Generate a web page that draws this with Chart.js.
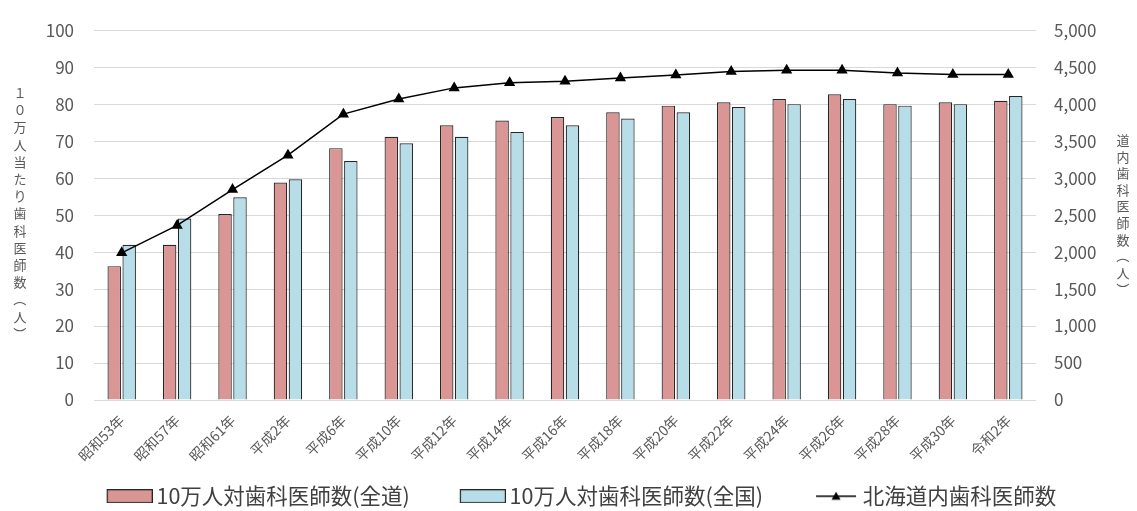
<!DOCTYPE html>
<html lang="ja">
<head>
<meta charset="utf-8">
<title>歯科医師数の推移</title>
<script src="https://cdn.jsdelivr.net/npm/chart.js@4/dist/chart.umd.min.js"></script>
<style>
    html, body { margin: 0; padding: 0; background: #fff; }
    #wrap { width: 1137px; height: 511px; position: relative; }
</style>
</head>
<body>
<div id="wrap"><canvas id="dentistChart"></canvas></div>
<script>
"use strict";

var years = ["昭和53年", "昭和57年", "昭和61年", "平成2年", "平成6年", "平成10年", "平成12年", "平成14年",
    "平成16年", "平成18年", "平成20年", "平成22年", "平成24年", "平成26年", "平成28年", "平成30年", "令和2年"];
// 10万人対歯科医師数（全道）
var ratioHokkaido = [36.2, 42.0, 50.3, 58.8, 68.1, 71.2, 74.3, 75.6, 76.5, 77.8, 79.6, 80.5, 81.4, 82.7, 80.0, 80.5, 80.9];
// 10万人対歯科医師数（全国）
var ratioNational = [42.0, 49.1, 54.8, 59.7, 64.6, 69.4, 71.2, 72.5, 74.3, 76.1, 77.8, 79.2, 80.0, 81.4, 79.6, 80.0, 82.2];
// 北海道内歯科医師数
var dentistsHokkaido = [1990, 2360, 2845, 3310, 3865, 4070, 4220, 4290, 4310, 4355, 4395, 4440, 4460, 4460, 4420, 4400, 4400];

var seriesNames = ["10万人対歯科医師数(全道)", "10万人対歯科医師数(全国)", "北海道内歯科医師数"];
var leftTitle = "１０万人当たり歯科医師数（人）";
var rightTitle = "道内歯科医師数（人）";

var FONT = '"Noto Sans CJK JP", "Noto Sans", sans-serif';
var GREY = '#595959';
var RED = '#DA9694';
var BLUE = '#B7DEE8';
var EDGE = '#262626';

// legend symbols; the transparent left part of each image gives the gap between items
var SYM_W = 65;
function legendSymbol(kind, fill) {
    var c = document.createElement('canvas');
    c.width = SYM_W + 14;
    c.height = 14;
    var g = c.getContext('2d');
    var x0 = c.width - 46;
    if (kind === 'box') {
        g.fillStyle = fill;
        g.fillRect(x0 + 0.5, 0.5, 45, 13);
        g.strokeStyle = EDGE;
        g.lineWidth = 1.2;
        g.strokeRect(x0 + 0.5, 0.5, 45, 13);
    } else {
        g.strokeStyle = '#000';
        g.lineWidth = 1.5;
        g.beginPath();
        g.moveTo(x0 + 3, 7);
        g.lineTo(x0 + 43, 7);
        g.stroke();
        g.fillStyle = '#000';
        g.beginPath();
        g.moveTo(x0 + 23, 2.5);
        g.lineTo(x0 + 27.5, 10.5);
        g.lineTo(x0 + 18.5, 10.5);
        g.closePath();
        g.fill();
    }
    return c;
}

function drawVertical(ctx, text, x, y, step) {
    Array.from(text).forEach(function (ch, i) {
        var cy = y + i * step;
        if (ch === '（' || ch === '）') {
            ctx.save();
            ctx.translate(x, cy);
            ctx.rotate(Math.PI / 2);
            ctx.fillText(ch, 0, 0);
            ctx.restore();
        } else {
            ctx.fillText(ch, x, cy);
        }
    });
}

var axisTitles = {
    id: 'axisTitles',
    afterDraw: function (chart) {
        var ctx = chart.ctx;
        ctx.save();
        ctx.font = '13px ' + FONT;
        ctx.fillStyle = GREY;
        ctx.textAlign = 'center';
        ctx.textBaseline = 'middle';
        drawVertical(ctx, leftTitle, 20, 93, 17.2);
        drawVertical(ctx, rightTitle, 1123, 140, 16.6);
        ctx.restore();
    }
};

var ctx = document.getElementById("dentistChart");
var dentistChart = new Chart(ctx, {
    type: 'bar',
    data: {
        labels: years,
        datasets: [{
            label: seriesNames[0],
            data: ratioHokkaido,
            backgroundColor: RED,
            borderColor: EDGE,
            borderWidth: 1.2,
            categoryPercentage: 0.54,
            barPercentage: 0.9,
            yAxisID: 'y',
            order: 1
        }, {
            label: seriesNames[1],
            data: ratioNational,
            backgroundColor: BLUE,
            borderColor: EDGE,
            borderWidth: 1.2,
            categoryPercentage: 0.54,
            barPercentage: 0.9,
            yAxisID: 'y',
            order: 2
        }, {
            type: 'line',
            label: seriesNames[2],
            data: dentistsHokkaido,
            borderColor: '#000',
            backgroundColor: '#000',
            borderWidth: 1.5,
            pointStyle: 'triangle',
            pointRadius: 5,
            pointBackgroundColor: '#000',
            pointBorderColor: '#000',
            tension: 0,
            yAxisID: 'y1',
            order: 0
        }]
    },
    options: {
        responsive: true,
        maintainAspectRatio: false,
        animation: false,
        layout: {
            padding: {
                top: 21,
                left: 0,
                right: 0,
                bottom: -6
            }
        },
        plugins: {
            tooltip: {
                enabled: false
            },
            legend: {
                position: 'bottom',
                labels: {
                    usePointStyle: true,
                    pointStyleWidth: SYM_W,
                    boxHeight: 14,
                    padding: 24,
                    color: '#404040',
                    font: {
                        family: FONT,
                        size: 21.5
                    },
                    generateLabels: function (chart) {
                        var items = Chart.defaults.plugins.legend.labels.generateLabels(chart);
                        items.sort(function (a, b) { return a.datasetIndex - b.datasetIndex; });
                        items.forEach(function (item) {
                            if (item.datasetIndex === 2) {
                                item.pointStyle = legendSymbol('line');
                            } else {
                                item.pointStyle = legendSymbol('box', item.fillStyle);
                            }
                        });
                        return items;
                    }
                }
            }
        },
        scales: {
            x: {
                grid: {
                    display: false
                },
                border: {
                    display: false
                },
                ticks: {
                    color: GREY,
                    minRotation: 45,
                    maxRotation: 45,
                    padding: 4,
                    font: {
                        family: FONT,
                        size: 14
                    }
                },
                afterFit: function (scale) {
                    scale.height = 61.5;
                }
            },
            y: {
                position: 'left',
                min: 0,
                max: 100,
                ticks: {
                    stepSize: 10,
                    color: GREY,
                    padding: 20,
                    font: {
                        family: FONT,
                        size: 17
                    }
                },
                grid: {
                    color: '#d9d9d9',
                    lineWidth: 1,
                    drawTicks: false
                },
                border: {
                    display: false
                },
                afterFit: function (scale) {
                    scale.width = 94;
                }
            },
            y1: {
                position: 'right',
                min: 0,
                max: 5000,
                ticks: {
                    stepSize: 500,
                    color: GREY,
                    padding: 18,
                    font: {
                        family: FONT,
                        size: 17
                    }
                },
                grid: {
                    display: false,
                    drawTicks: false
                },
                border: {
                    display: false
                },
                afterFit: function (scale) {
                    scale.width = 101;
                }
            }
        }
    },
    plugins: [axisTitles]
});
</script>
</body>
</html>
